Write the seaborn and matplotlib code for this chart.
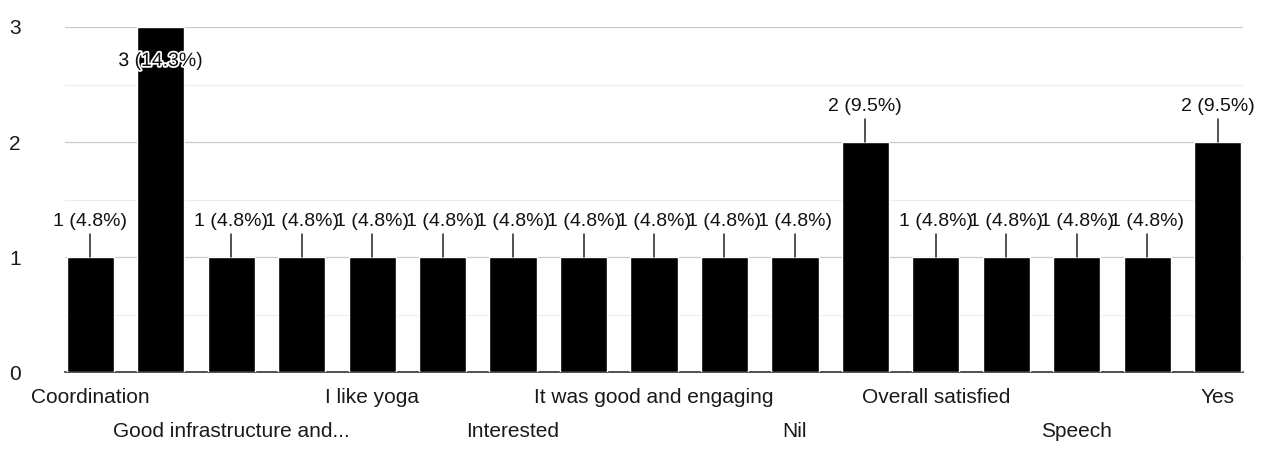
import matplotlib
matplotlib.use("Agg")
import matplotlib.pyplot as plt
import matplotlib.patheffects as pe
import pandas as pd
import seaborn as sns

# responses (sorted alphabetically, as in the form summary)
responses = [
    "Coordination", "Good", "Good infrastructure and...", "Good session",
    "I like yoga", "Informative", "Interested", "It was good",
    "It was good and engaging", "Nice", "Nil", "No",
    "Overall satisfied", "Satisfied", "Speech", "Very good", "Yes",
]
counts = [1, 3, 1, 1, 1, 1, 1, 1, 1, 1, 1, 2, 1, 1, 1, 1, 2]
total = sum(counts)

df = pd.DataFrame({"response": responses, "count": counts})

sns.set_style("white")
plt.rcParams["font.family"] = ["Liberation Sans", "DejaVu Sans"]

fig = plt.figure(figsize=(12.64, 4.5), dpi=100)
ax = fig.add_axes([0.0514, 0.173, 0.932, 0.767])

sns.barplot(data=df, x="response", y="count", color="black",
            width=0.67, saturation=1, ax=ax, zorder=3)

ax.set_xlim(-0.36, len(responses) - 1 + 0.36)
ax.set_ylim(0, 3)
ax.set_yticks([0, 1, 2, 3])
ax.set_yticks([0.5, 1.5, 2.5], minor=True)
ax.grid(axis="y", which="major", color="#c8c8c8", lw=0.9, zorder=0)
ax.grid(axis="y", which="minor", color="#ececec", lw=0.8, zorder=0)
for s in ["top", "right", "left"]:
    ax.spines[s].set_visible(False)
ax.spines["bottom"].set_color("#333333")
ax.spines["bottom"].set_linewidth(1.2)
ax.tick_params(axis="y", length=0, pad=32, labelsize=15, labelcolor="#1a1a1a")
ax.set_xlabel("")
ax.set_ylabel("")

# only every other category label is shown, in two staggered rows
ax.set_xticks(range(len(responses)))
ax.set_xticklabels([])
ax.tick_params(axis="x", length=0)
for i, name in enumerate(responses):
    if i % 2:
        continue
    dy = 0.22 if (i // 2) % 2 == 0 else 0.52
    ax.text(i, -dy, name, ha="center", va="center", fontsize=15,
            color="#1a1a1a", transform=ax.transData, clip_on=False)

# value annotations with short leader lines
for i, c in enumerate(counts):
    lab = f"{c} ({c / total * 100:.1f}%)"
    if c >= 3:
        ax.text(i, c - 0.3, lab, ha="center", va="center", fontsize=14,
                color="#111111", zorder=5,
                path_effects=[pe.withStroke(linewidth=2.5, foreground="white")])
    else:
        ax.plot([i, i], [c, c + 0.2], color="#222222", lw=1.1, zorder=4,
                clip_on=False)
        ax.text(i, c + 0.31, lab, ha="center", va="center", fontsize=14,
                color="#111111", zorder=5, clip_on=False)

fig.savefig("out.png", dpi=100, facecolor="white")
